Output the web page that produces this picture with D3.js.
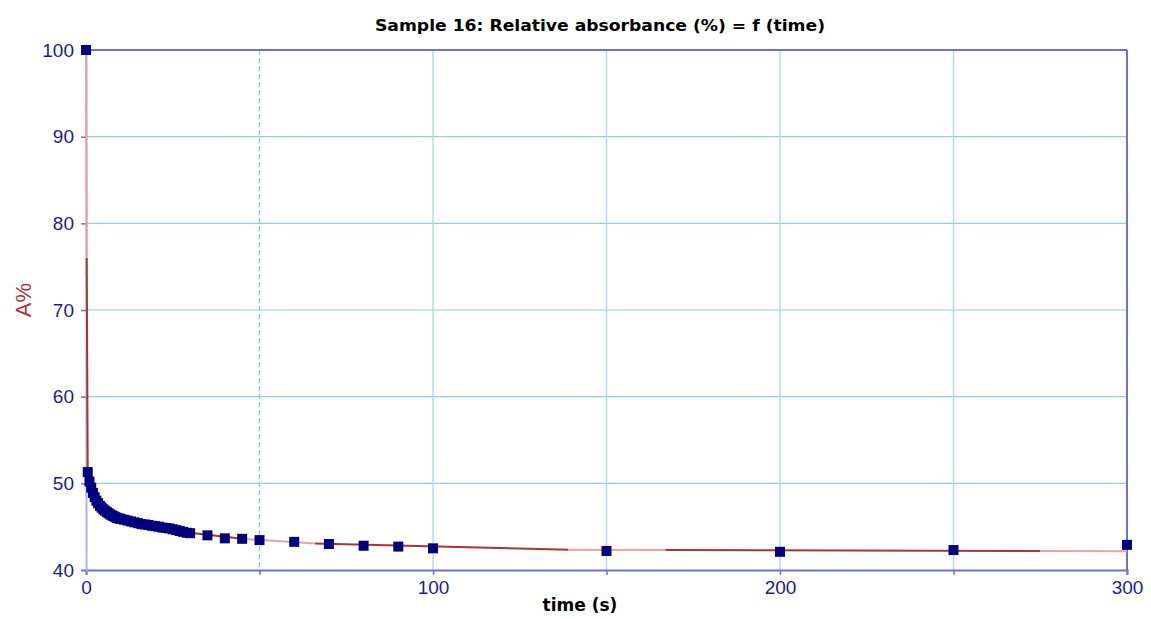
<!DOCTYPE html>
<html>
<head>
<meta charset="utf-8">
<script src="https://cdn.jsdelivr.net/npm/d3@7"></script>
<style>
  html, body { margin: 0; padding: 0; background: #ffffff; }
  svg { display: block; }
</style>
</head>
<body>
<svg id="chart" width="1151" height="619"></svg>
<script>
// ---- data ----
const titleText = "Sample 16: Relative absorbance (%) = f (time)";
const xLabel = "time (s)";
const yLabel = "A%";
const xTicks = [0, 50, 100, 150, 200, 250, 300];
const xTickLabels = ["0", "", "100", "", "200", "", "300"];
const yTicks = [40, 50, 60, 70, 80, 90, 100];
const yTickLabels = ["40", "50", "60", "70", "80", "90", "100"];
const xGrid = [50, 100, 150, 200, 250];
const yGrid = [50, 60, 70, 80, 90];

const pointTimes = [0, 0.5, 1, 1.5, 2, 2.5, 3, 3.5, 4, 4.5, 5, 5.5, 6, 6.5, 7, 7.5, 8, 8.5, 9, 9.5,
  10, 11, 12, 13, 14, 15, 16, 17, 18, 19, 20, 21, 22, 23, 24, 25, 26, 27, 28, 29, 30,
  35, 40, 45, 50, 60, 70, 80, 90, 100, 150, 200, 250, 300];
const pointValues = [100, 51.3, 50.2, 49.5, 48.9, 48.4, 48.0, 47.7, 47.4, 47.2, 47.0, 46.85, 46.7, 46.55, 46.4, 46.3, 46.2, 46.1, 46.0, 45.95,
  45.9, 45.8, 45.7, 45.6, 45.5, 45.4, 45.3, 45.25, 45.2, 45.1, 45.05, 45.0, 44.9, 44.85, 44.8, 44.7, 44.6, 44.5, 44.4, 44.3, 44.25,
  44.0, 43.65, 43.6, 43.45, 43.25, 43.0, 42.8, 42.7, 42.5, 42.2, 42.1, 42.3, 42.9];

const fitTimes = [0, 0.2, 0.5, 2, 5, 10, 20, 30, 45, 66, 139, 167, 275, 300];
const fitValues = [100, 76, 51.2, 48.7, 46.9, 45.9, 45.0, 44.3, 43.6, 43.05, 42.35, 42.3, 42.2, 42.15];

// ---- layout ----
const svg = d3.select("#chart");
const pL = 86, pR = 1127, pT = 50, pB = 570;
const x = d3.scaleLinear().domain([0, 300]).range([pL, pR]);
const y = d3.scaleLinear().domain([40, 100]).range([pB, pT]);

const axisColor = "#6f6fd8";
const labelColor = "#1c1c8e";
const font = "'Liberation Sans', Arial, sans-serif";

// grid
svg.append("g").selectAll("line").data(yGrid).join("line")
  .attr("x1", pL).attr("x2", pR)
  .attr("y1", d => y(d)).attr("y2", d => y(d))
  .attr("stroke", "#8fd2da").attr("stroke-width", 1.2);
svg.append("g").selectAll("line").data(xGrid).join("line")
  .attr("x1", d => x(d)).attr("x2", d => x(d))
  .attr("y1", pT).attr("y2", pB)
  .attr("stroke", (d, i) => i === 0 ? "#86cad6" : "#a8d6ea")
  .attr("stroke-width", 1.3)
  .attr("stroke-dasharray", (d, i) => i === 0 ? "5,3" : null);

// frame (top & right)
svg.append("line").attr("x1", pL).attr("x2", pR).attr("y1", pT).attr("y2", pT)
  .attr("stroke", axisColor).attr("stroke-width", 2);
svg.append("line").attr("x1", pR).attr("x2", pR).attr("y1", pT).attr("y2", pB)
  .attr("stroke", axisColor).attr("stroke-width", 2);

// axes
const xAxis = d3.axisBottom(x).tickValues(xTicks).tickFormat((d, i) => xTickLabels[i]).tickSize(5).tickPadding(6);
const gx = svg.append("g").attr("transform", `translate(0,${pB})`).call(xAxis);
gx.select(".domain").attr("stroke", axisColor).attr("stroke-width", 2);
gx.selectAll(".tick line").attr("stroke", axisColor).attr("stroke-width", 1.5);
gx.selectAll(".tick text").attr("fill", labelColor).attr("font-family", font).attr("font-size", 19);

const yAxis = d3.axisLeft(y).tickValues(yTicks).tickFormat((d, i) => yTickLabels[i]).tickSize(5).tickPadding(7);
const gy = svg.append("g").attr("transform", `translate(${pL},0)`).call(yAxis);
gy.select(".domain").attr("stroke", "#aeaeea").attr("stroke-width", 2);
gy.selectAll(".tick line").attr("stroke", axisColor).attr("stroke-width", 1.5);
gy.selectAll(".tick text").attr("fill", labelColor).attr("font-family", font).attr("font-size", 19);

// fit line, drawn segment by segment (alternating shades)
const fitPts = fitTimes.map((t, i) => [x(t), y(fitValues[i])]);
const segs = d3.pairs(fitPts);
svg.append("g").selectAll("line").data(segs).join("line")
  .attr("x1", d => d[0][0]).attr("y1", d => d[0][1])
  .attr("x2", d => d[1][0]).attr("y2", d => d[1][1])
  .attr("stroke", (d, i) => i % 2 === 0 ? "#e4a4a0" : "#a83434")
  .attr("stroke-width", 2)
  .attr("stroke-linecap", "butt");

// points
const ms = 10;
svg.append("g").selectAll("rect").data(pointTimes).join("rect")
  .attr("x", (d) => x(d) - ms / 2)
  .attr("y", (d, i) => y(pointValues[i]) - ms / 2)
  .attr("width", ms).attr("height", ms)
  .attr("fill", "#00007f");

// title
svg.append("text").attr("x", 600).attr("y", 31)
  .attr("text-anchor", "middle")
  .attr("font-family", "'DejaVu Sans', Verdana, sans-serif")
  .attr("font-weight", "bold").attr("font-size", 16)
  .attr("textLength", 450).attr("lengthAdjust", "spacingAndGlyphs")
  .attr("fill", "#000").text(titleText);

// x label
svg.append("text").attr("x", 580).attr("y", 611)
  .attr("text-anchor", "middle")
  .attr("font-family", "'DejaVu Sans', Verdana, sans-serif")
  .attr("font-weight", "bold").attr("font-size", 17)
  .attr("fill", "#000").text(xLabel);

// y label
svg.append("text")
  .attr("transform", "translate(31,300) rotate(-90)")
  .attr("text-anchor", "middle")
  .attr("font-family", font).attr("font-size", 22)
  .attr("fill", "#a83434").text(yLabel);
</script>
</body>
</html>
